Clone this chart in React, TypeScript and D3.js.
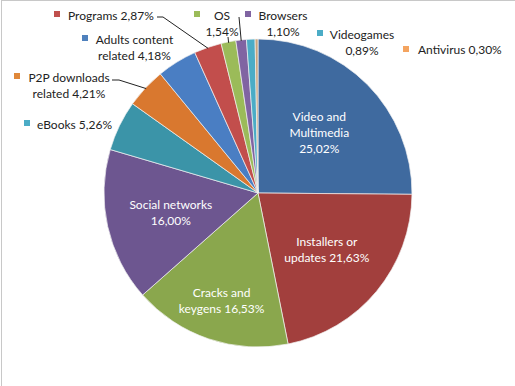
import * as d3 from "d3";

// Share of infected downloads by category, clockwise from 12 o'clock
const categories = [
  "Video and Multimedia",
  "Installers or updates",
  "Cracks and keygens",
  "Social networks",
  "eBooks",
  "P2P downloads related",
  "Adults content related",
  "Programs",
  "OS",
  "Browsers",
  "Videogames",
  "Antivirus",
];
const values = [25.02, 21.63, 16.53, 16.0, 5.26, 4.21, 4.18, 2.87, 1.54, 1.1, 0.89, 0.3];
const sliceColors = [
  "#3f6a9f", "#a23f3d", "#8aa74d", "#6d5690", "#3b94a8", "#d9782f",
  "#4a7ec3", "#c24e4c", "#9bbb59", "#8064a2", "#4bacc6", "#c9a47c",
];
const markerColors = [
  "#4f81bd", "#c0504d", "#9bbb59", "#8064a2", "#4bacc6", "#e0883a",
  "#4f81bd", "#c0504d", "#9bbb59", "#8064a2", "#4bacc6", "#f4a460",
];

const fmt = (v: number) => v.toFixed(2).replace(".", ",") + "%";

// label text split into lines (inside labels for the big slices)
const insideLines: Record<number, string[]> = {
  0: ["Video and", "Multimedia", fmt(values[0])],
  1: ["Installers or", `updates ${fmt(values[1])}`],
  2: ["Cracks and", `keygens ${fmt(values[2])}`],
  3: ["Social networks", fmt(values[3])],
};
const insideRadius: Record<number, number> = { 0: 0.56, 1: 0.58, 2: 0.74, 3: 0.58 };

// outside label layout (style only)
type Outside = {
  lines: string[];
  x: number;
  y: number;
  anchor: "start" | "middle";
  mx: number;
  my: number;
  leader?: [number, number][];
};
const outside: Record<number, Outside> = {
  4: { lines: [`eBooks ${fmt(values[4])}`], x: 37, y: 124, anchor: "start", mx: 24, my: 120 },
  5: {
    lines: ["P2P downloads", `related ${fmt(values[5])}`], x: 69, y: 77, anchor: "middle", mx: 14, my: 73,
    leader: [[112, 80], [119, 80]],
  },
  6: { lines: ["Adults content", `related ${fmt(values[6])}`], x: 134.5, y: 39, anchor: "middle", mx: 82, my: 35 },
  7: {
    lines: [`Programs ${fmt(values[7])}`], x: 68, y: 15, anchor: "start", mx: 54, my: 11,
    leader: [[157, 17], [163, 17]],
  },
  8: { lines: ["OS", fmt(values[8])], x: 222, y: 15, anchor: "middle", mx: 194, my: 11, leader: [[228, 37]] },
  9: { lines: ["Browsers", fmt(values[9])], x: 283, y: 15, anchor: "middle", mx: 245, my: 11, leader: [[239, 17]] },
  10: { lines: ["Videogames", fmt(values[10])], x: 362, y: 34, anchor: "middle", mx: 317, my: 30 },
  11: { lines: [`Antivirus ${fmt(values[11])}`], x: 418, y: 49, anchor: "start", mx: 403, my: 46 },
};

export default function App() {
  const width = 515;
  const height = 386;
  const cx = 258;
  const cy = 193;
  const r = 154;

  const pie = d3.pie<number>().sort(null).value((d) => d);
  const arcs = pie(values);
  const arc = d3.arc<d3.PieArcDatum<number>>().innerRadius(0).outerRadius(r);
  const edge = d3.arc<d3.PieArcDatum<number>>().innerRadius(r - 1).outerRadius(r - 1);

  return (
    <svg
      width={width}
      height={height}
      style={{ position: "fixed", left: 0, top: 0, background: "#fff" }}
      fontFamily="Lato, 'Open Sans', sans-serif"
      fontSize={12}
    >
      <rect x={1.5} y={0.5} width={600} height={600} fill="none" stroke="#c8c8c8" />
      <g transform={`translate(${cx},${cy})`}>
        {arcs.map((a, i) => (
          <path key={i} d={arc(a)!} fill={sliceColors[i]} stroke="#f2f2f2" strokeWidth={0.7} />
        ))}
        {arcs.map((a, i) => {
          const lines = insideLines[i];
          if (!lines) return null;
          const mid = (a.startAngle + a.endAngle) / 2;
          const rr = r * insideRadius[i];
          const x = Math.sin(mid) * rr;
          const y = -Math.cos(mid) * rr;
          const y0 = y - ((lines.length - 1) * 16) / 2;
          return (
            <text key={i} x={x} textAnchor="middle" fill="#fff">
              {lines.map((l, j) => (
                <tspan key={j} x={x} y={y0 + j * 16} dominantBaseline="central">
                  {l}
                </tspan>
              ))}
            </text>
          );
        })}
      </g>
      {arcs.map((a, i) => {
        const o = outside[i];
        if (!o) return null;
        const [px, py] = edge.centroid(a);
        const pts = o.leader ? [...o.leader, [px + cx, py + cy]] : null;
        return (
          <g key={i}>
            {pts && (
              <polyline
                points={pts.map((p) => p.join(",")).join(" ")}
                fill="none"
                stroke="#222"
                strokeWidth={1}
              />
            )}
            <rect x={o.mx} y={o.my} width={6} height={6} fill={markerColors[i]} />
            <text textAnchor={o.anchor} fill="#222">
              {o.lines.map((l, j) => (
                <tspan key={j} x={o.x} y={o.y + j * 16} dominantBaseline="central">
                  {l}
                </tspan>
              ))}
            </text>
          </g>
        );
      })}
    </svg>
  );
}
